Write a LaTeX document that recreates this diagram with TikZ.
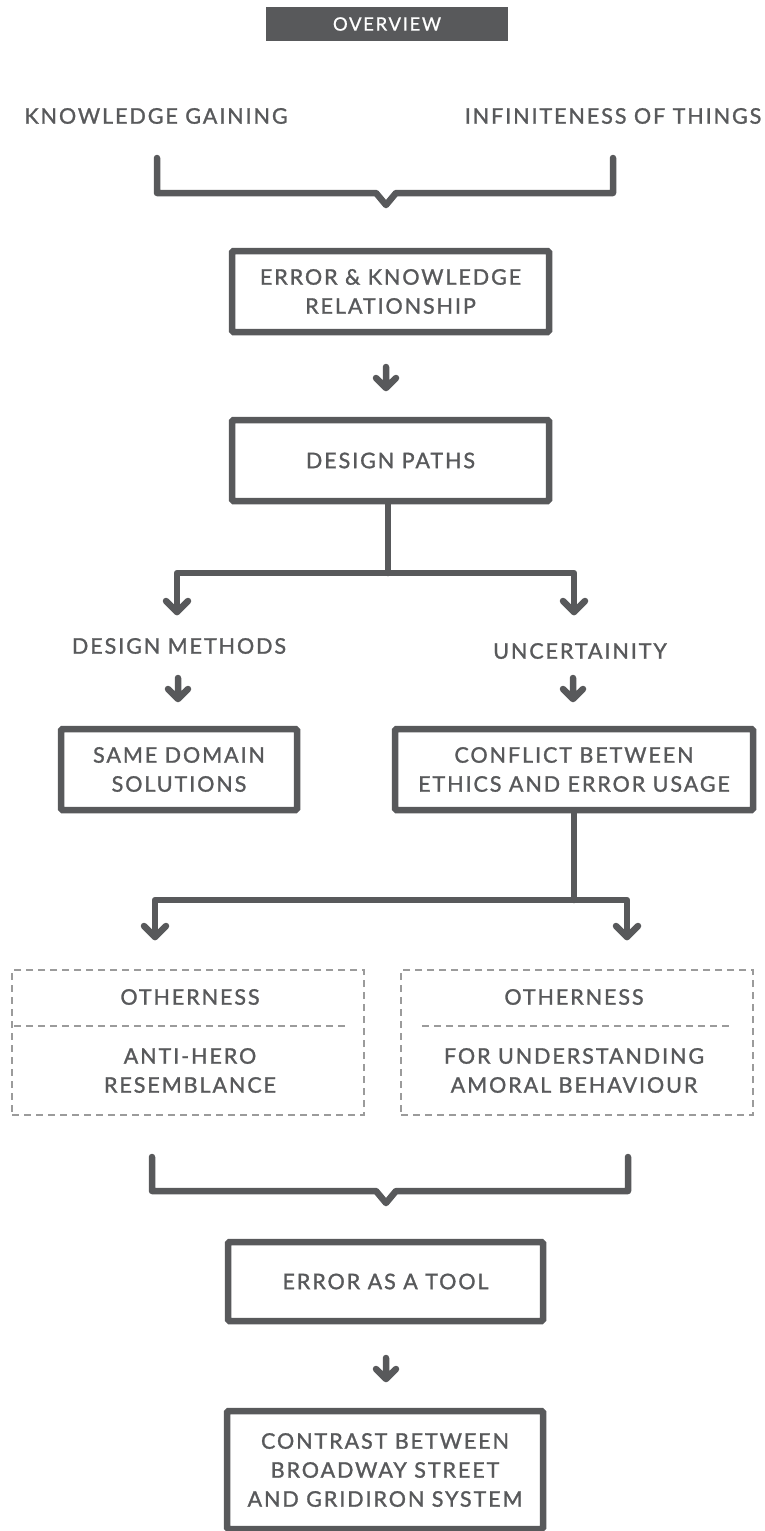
\documentclass[tikz,border=0pt]{standalone}
\usepackage{fontspec}
\setmainfont{Lato}
\newfontfamily\labfont[LetterSpace=9.0,FakeBold=1.3]{Lato}
\newfontfamily\ovfont[LetterSpace=9.0,FakeBold=0.8]{Lato}
\definecolor{ink}{HTML}{58595B}
\definecolor{dashgray}{HTML}{9B9B9B}
\begin{document}
\begin{tikzpicture}[x=1pt,y=-1pt,
  txt/.style={font=\labfont\fontsize{21.5}{29}\selectfont, text=ink, align=center, inner sep=0pt},
  frame/.style={txt, draw=ink, line width=6.5pt, rounded corners=1.5pt},
  dbox/.style={draw=dashgray, line width=1.8pt, dash pattern=on 7pt off 5pt},
  conn/.style={draw=ink, line width=6.5pt, line cap=round, line join=round},
  darr/.pic={\draw[conn] (0,-21) -- (0,0) (-10,-10) -- (0,0) -- (10,-10);},
  head/.pic={\draw[conn] (-11,-11) -- (0,0) -- (11,-11);}
]
\useasboundingbox (0,0) rectangle (765,1531);
\clip (0,0) rectangle (765,1531);

% header
\node[inner sep=0pt, fill=ink, minimum width=242pt, minimum height=34pt,
      font=\ovfont\fontsize{18.5}{20}\selectfont, text=white] (ov) at (387,24) {OVERVIEW};

% top labels and bracket
\node[txt] (kg) at (156,116) {KNOWLEDGE GAINING};
\node[txt] (inf) at (613,116) {INFINITENESS OF THINGS};
\coordinate (b1l) at (157,158);
\coordinate (b1r) at (613,158);
\draw[conn] (b1l) -- (157,193) -- (376,193) -- (386,205) -- (396,193) -- (613,193) -- (b1r);

% main boxes
\node[frame, minimum width=317pt, minimum height=81pt] (rel) at (390.5,291.5) {ERROR \& KNOWLEDGE\\RELATIONSHIP};
\pic at (386,388) {darr};
\node[frame, minimum width=317pt, minimum height=81pt] (paths) at (390.5,460.5) {DESIGN PATHS};

% branch 1
\coordinate (j1) at (388,573);
\coordinate (t1l) at (177,612);
\coordinate (t1r) at (574,612);
\draw[conn] (paths.south -| j1) -- (j1);
\draw[conn] (t1l) |- (j1) -| (t1r);
\pic at (t1l) {head};
\pic at (t1r) {head};

\node[txt] (meth) at (179,646) {DESIGN METHODS};
\node[txt] (unc) at (580,651) {UNCERTAINITY};
\pic at (178,699) {darr};
\pic at (573,699) {darr};

\node[frame, minimum width=236pt, minimum height=81pt] (same) at (179,769.5) {SAME DOMAIN\\SOLUTIONS};
\node[frame, minimum width=358pt, minimum height=81pt] (conf) at (574,769.5) {CONFLICT BETWEEN\\ETHICS AND ERROR USAGE};

% branch 2
\coordinate (j2) at (574,900);
\coordinate (t2l) at (155,937);
\coordinate (t2r) at (627,937);
\draw[conn] (conf.south) -- (j2);
\draw[conn] (t2l) |- (j2) -| (t2r);
\pic at (t2l) {head};
\pic at (t2r) {head};

% dashed boxes
\node[dbox, minimum width=352pt, minimum height=145pt, inner sep=0pt] (dl) at (188,1042.5) {};
\node[dbox, minimum width=352pt, minimum height=145pt, inner sep=0pt] (dr) at (577,1042.5) {};
\draw[dbox] (14,1026) -- (348,1026);
\draw[dbox] (422,1026) -- (733,1026);
\node[txt] (o1) at (190,997) {OTHERNESS};
\node[txt] (ah) at (190,1070.5) {ANTI-HERO\\RESEMBLANCE};
\node[txt] (o2) at (574,997) {OTHERNESS};
\node[txt] (fu) at (574,1070.5) {FOR UNDERSTANDING\\AMORAL BEHAVIOUR};

% bracket 2
\coordinate (b2l) at (152,1157);
\coordinate (b2r) at (628,1157);
\draw[conn] (b2l) -- (152,1191) -- (376,1191) -- (386,1203) -- (396,1191) -- (628,1191) -- (b2r);

\node[frame, minimum width=315pt, minimum height=79pt] (tool) at (385.5,1281.5) {ERROR AS A TOOL};
\pic at (386,1379) {darr};
\node[frame, minimum width=316pt, minimum height=118pt] (contr) at (385,1470) {CONTRAST BETWEEN\\BROADWAY STREET\\AND GRIDIRON SYSTEM};
\end{tikzpicture}
\end{document}
